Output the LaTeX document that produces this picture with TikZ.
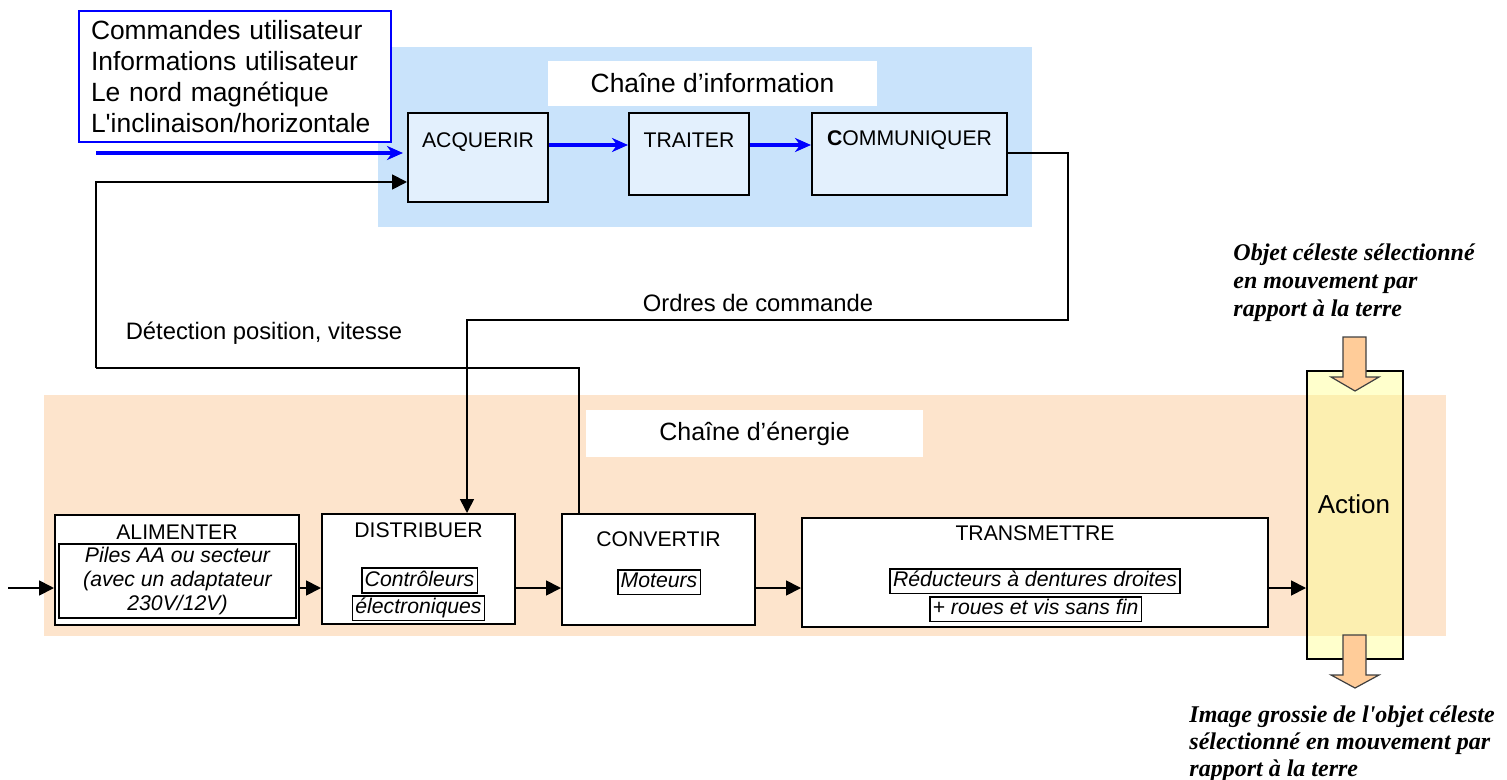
\documentclass[tikz,border=0pt]{standalone}
\usepackage{fontspec}
\setmainfont{Liberation Sans}[Ligatures=TeXOff]
\newfontfamily\timesfont{Liberation Serif}[Ligatures=TeXOff]
\usetikzlibrary{arrows.meta,calc}
\definecolor{infobg}{HTML}{C9E3FB}
\definecolor{infobox}{HTML}{E3F0FD}
\definecolor{enbg}{HTML}{FDE4CC}
\definecolor{actyel}{HTML}{FFFFCC}
\definecolor{actmix}{HTML}{FCEFB0}
\definecolor{arrorange}{HTML}{FFCC99}
\definecolor{ublue}{HTML}{0000FF}
\begin{document}
\begin{tikzpicture}[x=0.5pt,y=-0.5pt,
  big/.style={inner sep=0pt,font=\fontsize{11.9}{14}\selectfont},
  boxi/.style={draw=black,line width=1pt,fill=infobox,inner sep=0pt},
  boxe/.style={draw=black,line width=1pt,fill=white,inner sep=0pt},
  ttl/.style={inner sep=0pt,font=\fontsize{10.6}{12}\selectfont},
  subbox/.style={draw=black,line width=0.8pt,fill=white,inner xsep=1.5pt,inner ysep=1pt,text height=8pt,text depth=2.3pt,font=\fontsize{10.6}{12}\selectfont\itshape},
  blarr/.style={draw=ublue,line width=1.75pt,-{Stealth[length=8pt,width=7pt,inset=2.5pt]}},
  karr/.style={draw=black,line width=0.9pt,-{Triangle[length=7.5pt,width=7.5pt]}},
  wire/.style={draw=black,line width=0.8pt},
  objtxt/.style={inner sep=0pt,align=left,font=\timesfont\bfseries\itshape\fontsize{12}{14}\selectfont},
  orangearrow/.style={fill=arrorange,draw=black!75,line width=0.6pt,line join=miter},
]
\useasboundingbox (0,0) rectangle (1507,780);
% backgrounds
\fill[infobg] (378,47) rectangle (1032,227);
\fill[enbg] (44,395) rectangle (1446,636);
\node[fill=white,minimum width=164.5pt,minimum height=22.5pt,inner sep=0pt,font=\fontsize{13.2}{15.4}\selectfont] (infolbl) at (712.5,83.5) {Chaîne d’information};
\node[fill=white,minimum width=168.5pt,minimum height=23.5pt,inner sep=0pt,font=\fontsize{12.5}{15}\selectfont] (enlbl) at (754.5,433.5) {Chaîne d’énergie};
% user box
\node[draw=ublue,line width=0.7pt,fill=white,minimum width=156pt,minimum height=65.5pt,text width=144pt,align=left,inner sep=0pt,font=\fontsize{13.2}{15.4}\selectfont] (user) at (235,76.5) {Commandes utilisateur\\Informations utilisateur\\Le nord magnétique\\L'inclinaison/horizontale};
% action column
\fill[actyel] (1307,371) rectangle (1403,659);
\fill[actmix] (1307,395) rectangle (1403,636);
\node[draw=black,line width=1pt,minimum width=48pt,minimum height=144pt,inner sep=0pt] (action) at (1355,515) {};
\node[inner sep=0pt,font=\fontsize{13}{15}\selectfont] (actiont) at (1354,504) {Action};
\draw[orangearrow] (1343,337) -- (1366,337) -- (1366,377) -- (1379,377) -- (1355,391) -- (1331,377) -- (1343,377) -- cycle;
\draw[orangearrow] (1343,635) -- (1366,635) -- (1366,675) -- (1379,675) -- (1355,688) -- (1331,675) -- (1343,675) -- cycle;
\node[objtxt,anchor=west] (objin) at (1233,283) {Objet céleste sélectionné\\en mouvement par\\rapport à la terre};
\node[objtxt,anchor=west,font=\timesfont\bfseries\itshape\fontsize{12}{13.4}\selectfont] (objout) at (1189,744) {Image grossie de l'objet céleste\\sélectionné en mouvement par\\rapport à la terre};
% information chain boxes
\node[boxi,minimum width=70pt,minimum height=44.5pt] (acq) at (478,157.5) {};
\node[ttl] (acqt) at (478,142) {ACQUERIR};
\node[boxi,minimum width=60pt,minimum height=41pt] (tr) at (689,154) {};
\node[ttl] (trt) at (689,140) {TRAITER};
\node[boxi,minimum width=97.5pt,minimum height=41pt] (com) at (909.5,154) {};
\node[ttl] (comt) at (909.5,140) {\textbf{C}OMMUNIQUER};
% energy chain boxes
\node[boxe,minimum width=122pt,minimum height=55pt] (ali) at (177,570) {};
\node[ttl] (alit) at (177,532) {ALIMENTER};
\node[draw=black,line width=0.8pt,fill=white,minimum width=118.5pt,minimum height=37pt,inner sep=0pt,align=center,font=\fontsize{10.6}{11.8}\selectfont\itshape] (alisub) at (177.5,581) {Piles AA ou secteur\\(avec un adaptateur\\230V/12V)};
\node[boxe,minimum width=96.5pt,minimum height=55pt] (dist) at (418.5,569) {};
\node[ttl] (distt) at (418.5,530) {DISTRIBUER};
\node[subbox] (ctrl) at (419.5,580.5) {Contrôleurs};
\node[subbox] (elec) at (418.5,608) {électroniques};
\node[boxe,minimum width=96.5pt,minimum height=55.5pt] (conv) at (658.5,569.5) {};
\node[ttl] (convt) at (658.5,539) {CONVERTIR};
\node[subbox] (mot) at (659,582) {Moteurs};
\node[boxe,minimum width=233pt,minimum height=54.5pt] (trans) at (1035,572.5) {};
\node[ttl] (transt) at (1035,533) {TRANSMETTRE};
\node[subbox] (red) at (1035,581) {Réducteurs à dentures droites};
\node[subbox] (roues) at (1035.5,609) {+ roues et vis sans fin};
% labels
\node[big] (ordt) at (758,303) {Ordres de commande};
\node[big] (dett) at (264,333) {Détection position, vitesse};
% connectors
\coordinate (bin) at (96,153);
\draw[blarr,shorten >=2pt] (bin) -- (bin -| acq.west);
\draw[blarr] ($(acq.north east)+(0,33)$) -- ($(tr.north west)+(0,33)$);
\draw[blarr] ($(tr.north east)+(0,33)$) -- ($(com.north west)+(0,33)$);
\coordinate (ordc) at (1068,320);
\draw[wire,-{Triangle[length=7pt,width=7pt]}] ($(com.north east)+(0,41)$) -| (ordc) -| ($(dist.north west)+(146,0)$);
\coordinate (fb) at (96,368);
\draw[wire] ($(conv.north west)+(18,0)$) |- (fb);
\draw[karr] (fb) |- ($(acq.north west)+(0,70)$);
\coordinate (ein) at (8,588);
\draw[karr] (ein) -- (ein -| ali.west);
\draw[karr] (ali.east |- ein) -- (dist.west |- ein);
\draw[karr] (dist.east |- ein) -- (conv.west |- ein);
\draw[karr] (conv.east |- ein) -- (trans.west |- ein);
\draw[karr] (trans.east |- ein) -- (action.west |- ein);
\end{tikzpicture}
\end{document}
